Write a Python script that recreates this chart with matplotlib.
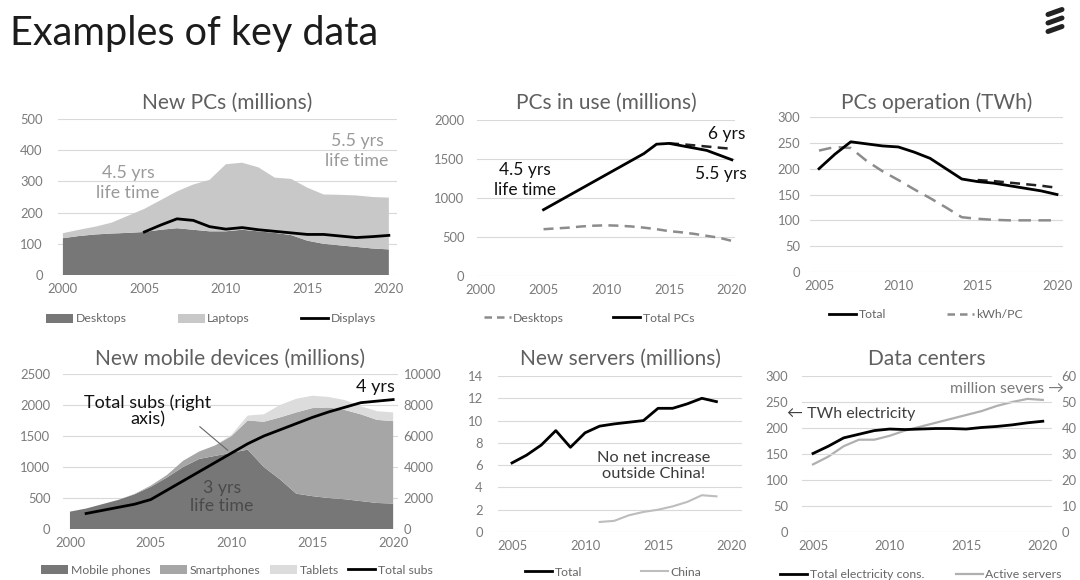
import matplotlib
matplotlib.use('Agg')
import matplotlib.pyplot as plt
from matplotlib.lines import Line2D
import numpy as np

plt.rcParams['font.family'] = ['Lato', 'DejaVu Sans']

W, H = 1080, 580

# ---- data ----
# New PCs (millions)
pc_years = list(range(2000, 2021))
pc_desktops = [118, 125, 130, 133, 135, 138, 145, 150, 145, 140, 140, 145, 140, 135,
               128, 110, 100, 95, 90, 85, 82]
pc_total_new = [134, 145, 155, 168, 190, 212, 240, 268, 290, 305, 355, 360, 345, 312,
                308, 280, 258, 257, 255, 250, 248]
pc_laptops = [t - d for t, d in zip(pc_total_new, pc_desktops)]
disp_years = list(range(2005, 2021))
pc_displays = [138, 160, 180, 175, 155, 147, 152, 145, 140, 135, 130, 130, 125, 120, 123, 127]

# PCs in use (millions)
use_years = list(range(2005, 2021))
use_total = [850, 940, 1030, 1120, 1210, 1300, 1390, 1480, 1570, 1690, 1700, 1670,
             1640, 1610, 1550, 1490]
use_desktops = [600, 610, 620, 635, 645, 650, 645, 635, 620, 600, 575, 560, 540, 515, 490, 450]
use6_years = list(range(2015, 2021))
use_total_6yrs = [1700, 1690, 1675, 1660, 1645, 1630]

# PCs operation (TWh)
op_years = list(range(2005, 2021))
op_total = [200, 228, 252, 248, 244, 242, 232, 220, 200, 180, 175, 172, 167, 162, 157, 150]
op_kwh = [235, 242, 240, 215, 195, 178, 160, 143, 125, 106, 103, 101, 100, 100, 100, 100]
op6_years = list(range(2015, 2021))
op_total_6yrs = [178, 176, 173, 170, 167, 163]

# New mobile devices (millions)
mob_years = list(range(2000, 2021))
mob_phones = [280, 330, 400, 470, 560, 680, 830, 1000, 1130, 1180, 1230, 1280, 1000, 800,
              570, 530, 500, 480, 450, 420, 410]
mob_smart = [0, 0, 0, 0, 5, 20, 40, 100, 120, 170, 270, 470, 730, 1000, 1310, 1420,
             1460, 1440, 1400, 1340, 1330]
mob_tablets = [0, 0, 0, 0, 0, 0, 0, 0, 0, 0, 20, 80, 120, 200, 220, 200, 170, 160,
               130, 140, 140]
subs_years = list(range(2001, 2021))
mob_subs = [1000, 1200, 1400, 1600, 1900, 2500, 3100, 3700, 4300, 4900, 5500, 6000, 6400,
            6800, 7200, 7550, 7850, 8150, 8250, 8350]

# New servers (millions)
srv_years = list(range(2005, 2020))
srv_total = [6.2, 6.9, 7.8, 9.1, 7.6, 8.9, 9.5, 9.7, 9.85, 10.0, 11.1, 11.1, 11.5, 12.0, 11.7]
china_years = list(range(2011, 2020))
srv_china = [0.9, 1.0, 1.5, 1.8, 2.0, 2.3, 2.7, 3.3, 3.2]

# Data centers
dc_years = list(range(2005, 2021))
dc_twh = [151, 165, 181, 188, 195, 198, 197, 198, 199, 199, 198, 201, 203, 206, 210, 213]
dc_servers = [26, 29, 33, 35.5, 35.5, 37, 39, 40.5, 42, 43.5, 45, 46.5, 48.5, 50, 51.2, 50.8]

# ---- styling ----
GRID = '#d9d9d9'
TICK = '#7a7a7a'
TITLE = '#5f5f5f'
DARK = '#777777'
MID = '#a6a6a6'
LIGHT = '#c8c8c8'
LIGHTER = '#dcdcdc'
TICKSIZE = 9.4

fig = plt.figure(figsize=(W / 100, H / 100), dpi=100)


def px_axes(left, top, right, bottom):
    return fig.add_axes([left / W, 1 - bottom / H, (right - left) / W, (bottom - top) / H])


def style(ax, ypad=8, xpad=6):
    for s in ax.spines.values():
        s.set_visible(False)
    ax.yaxis.grid(True, color=GRID, lw=0.8)
    ax.set_axisbelow(True)
    ax.tick_params(length=0, colors=TICK, labelsize=TICKSIZE)
    ax.tick_params(axis='y', pad=ypad)
    ax.tick_params(axis='x', pad=xpad)


def title(ax, txt, y):
    x = (ax.get_position().x0 + ax.get_position().x1) / 2
    fig.text(x, 1 - y / H, txt, ha='center', va='center', fontsize=15, color=TITLE)


def legend(ax, handles, labels, cx, cy, spacing=4.0):
    ax.legend(handles, labels, loc='center', bbox_to_anchor=(cx / W, 1 - cy / H),
              bbox_transform=fig.transFigure, ncol=len(handles), frameon=False,
              fontsize=8.8, labelcolor='#666666', handlelength=2.2, handletextpad=0.2,
              columnspacing=spacing)


def ftext(x, y, txt, color, size=11, ls=1.25, **kw):
    fig.text(x / W, 1 - y / H, txt, ha='center', va='center', fontsize=size, color=color,
             linespacing=ls, **kw)


# main title and logo
fig.text(10 / W, 1 - 33 / H, 'Examples of key data', fontsize=28.5, color='#1c1c1c',
         ha='left', va='center')
for yb in (12, 20.5, 29):
    fig.add_artist(Line2D([1048 / W, 1062 / W], [1 - (yb + 2.5) / H, 1 - (yb - 2.5) / H],
                          color='#222222', lw=3.6, solid_capstyle='round'))

# ---- panel 1: New PCs ----
ax1 = px_axes(58, 119, 397, 275)
ax1.stackplot(pc_years, pc_desktops, pc_laptops, colors=[DARK, LIGHT], lw=0)
ax1.plot(disp_years, pc_displays, color='black', lw=2)
ax1.set_xlim(1999.7, 2020.5)
ax1.set_ylim(0, 500)
ax1.set_yticks(range(0, 501, 100))
ax1.set_xticks(range(2000, 2021, 5))
style(ax1, ypad=11)
title(ax1, 'New PCs (millions)', 103)
ftext(128, 183, '4.5 yrs\nlife time', '#9a9a9a', size=12.8)
ftext(357, 151, '5.5 yrs\nlife time', '#9a9a9a', size=12.8)
legend(ax1,
       [plt.Rectangle((0, 0), 1, 1, fc=DARK), plt.Rectangle((0, 0), 1, 1, fc=LIGHT),
        Line2D([], [], color='black', lw=2)],
       ['Desktops', 'Laptops', 'Displays'], 211, 319, spacing=4.2)

# ---- panel 2: PCs in use ----
ax2 = px_axes(477, 120, 735, 276)
ax2.plot(use_years, use_desktops, color='#8c8c8c', lw=1.8, dashes=(4, 2.5))
ax2.plot(use6_years, use_total_6yrs, color='#222222', lw=1.8, dashes=(4, 2.5))
ax2.plot(use_years, use_total, color='black', lw=2)
ax2.set_xlim(1999.7, 2020.25)
ax2.set_ylim(0, 2000)
ax2.set_yticks(range(0, 2001, 500))
ax2.set_xticks(range(2000, 2021, 5))
style(ax2, ypad=9)
title(ax2, 'PCs in use (millions)', 103)
ftext(525, 180, '4.5 yrs\nlife time', '#111111', size=12.5)
ftext(727, 134, '6 yrs', '#111111', size=12.5)
ftext(721, 174, '5.5 yrs', '#111111', size=12.5)
legend(ax2,
       [Line2D([], [], color='#8c8c8c', lw=1.8, dashes=(3, 2)),
        Line2D([], [], color='black', lw=2)],
       ['Desktops', 'Total PCs'], 589, 318, spacing=4.0)

# ---- panel 3: PCs operation ----
ax3 = px_axes(810, 117, 1063, 272)
ax3.plot(op_years, op_kwh, color='#8c8c8c', lw=1.8, dashes=(5, 3))
ax3.plot(op6_years, op_total_6yrs, color='#222222', lw=1.8, dashes=(4, 2.5))
ax3.plot(op_years, op_total, color='black', lw=2)
ax3.set_xlim(2004.43, 2020.38)
ax3.set_ylim(0, 300)
ax3.set_yticks(range(0, 301, 50))
ax3.set_xticks(range(2005, 2021, 5))
style(ax3, ypad=7)
title(ax3, 'PCs operation (TWh)', 103)
legend(ax3,
       [Line2D([], [], color='black', lw=2),
        Line2D([], [], color='#8c8c8c', lw=1.8, dashes=(3, 2))],
       ['Total', 'kWh/PC'], 926, 315, spacing=5.0)

# ---- panel 4: New mobile devices ----
ax4 = px_axes(63, 374, 398, 529)
ax4.stackplot(mob_years, mob_phones, mob_smart, mob_tablets, colors=[DARK, MID, LIGHTER], lw=0)
ax4.set_xlim(1999.57, 2020.3)
ax4.set_ylim(0, 2500)
ax4.set_yticks(range(0, 2501, 500))
ax4.set_xticks(range(2000, 2021, 5))
style(ax4, ypad=9)
ax4r = ax4.twinx()
ax4r.plot(subs_years, mob_subs, color='black', lw=2)
ax4r.set_ylim(0, 10000)
ax4r.set_yticks(range(0, 10001, 2000))
for s in ax4r.spines.values():
    s.set_visible(False)
ax4r.tick_params(length=0, colors=TICK, labelsize=TICKSIZE, pad=4)
title(ax4, 'New mobile devices (millions)', 359)
ax4.annotate('', xy=(2009.9, 1240), xytext=(2007.9, 1680),
             arrowprops=dict(arrowstyle='-', color='#666666', lw=0.8))
ftext(148, 411, 'Total subs (right\naxis)', '#111111', size=13, ls=1.0)
ftext(375, 387, '4 yrs', '#111111', size=13)
ftext(222, 497, '3 yrs\nlife time', '#4a4a4a', size=12.8, ls=1.1)
legend(ax4,
       [plt.Rectangle((0, 0), 1, 1, fc=DARK), plt.Rectangle((0, 0), 1, 1, fc=MID),
        plt.Rectangle((0, 0), 1, 1, fc=LIGHTER), Line2D([], [], color='black', lw=2)],
       ['Mobile phones', 'Smartphones', 'Tablets', 'Total subs'], 237, 570, spacing=0.8)

# ---- panel 5: New servers ----
ax5 = px_axes(498, 376, 742, 532)
ax5.plot(srv_years, srv_total, color='black', lw=2)
ax5.plot(china_years, srv_china, color='#bdbdbd', lw=1.5)
ax5.set_xlim(2004.04, 2020.75)
ax5.set_ylim(0, 14)
ax5.set_yticks(range(0, 15, 2))
ax5.set_xticks(range(2005, 2021, 5))
style(ax5, ypad=11)
title(ax5, 'New servers (millions)', 359)
ftext(654, 466, 'No net increase\noutside China!', '#3a3a3a', size=11.8)
legend(ax5,
       [Line2D([], [], color='black', lw=2), Line2D([], [], color='#bdbdbd', lw=1.5)],
       ['Total', 'China'], 613, 572, spacing=4.8)

# ---- panel 6: Data centers ----
ax6 = px_axes(802, 376, 1052, 532)
ax6.plot(dc_years, dc_twh, color='black', lw=2, zorder=3)
ax6.set_xlim(2004.28, 2020.6)
ax6.set_ylim(0, 300)
ax6.set_yticks(range(0, 301, 50))
ax6.set_xticks(range(2005, 2021, 5))
style(ax6, ypad=10)
ax6r = ax6.twinx()
ax6r.plot(dc_years, dc_servers, color='#b0b0b0', lw=1.6)
ax6r.set_ylim(0, 60)
ax6r.set_yticks(range(0, 61, 10))
for s in ax6r.spines.values():
    s.set_visible(False)
ax6r.tick_params(length=0, colors=TICK, labelsize=TICKSIZE, pad=7)
ax6.set_zorder(ax6r.get_zorder() + 1)
ax6.patch.set_visible(False)
title(ax6, 'Data centers', 359)
ftext(851, 414, '\u2190 TWh electricity', '#3f3f3f', size=11.5)
ftext(1007, 389, 'million severs \u2192', '#7a7a7a', size=11.3)
legend(ax6,
       [Line2D([], [], color='black', lw=2), Line2D([], [], color='#b0b0b0', lw=1.6)],
       ['Total electricity cons.', 'Active servers'], 921, 575, spacing=2.6)

fig.savefig('out.png', dpi=100, facecolor='white')
